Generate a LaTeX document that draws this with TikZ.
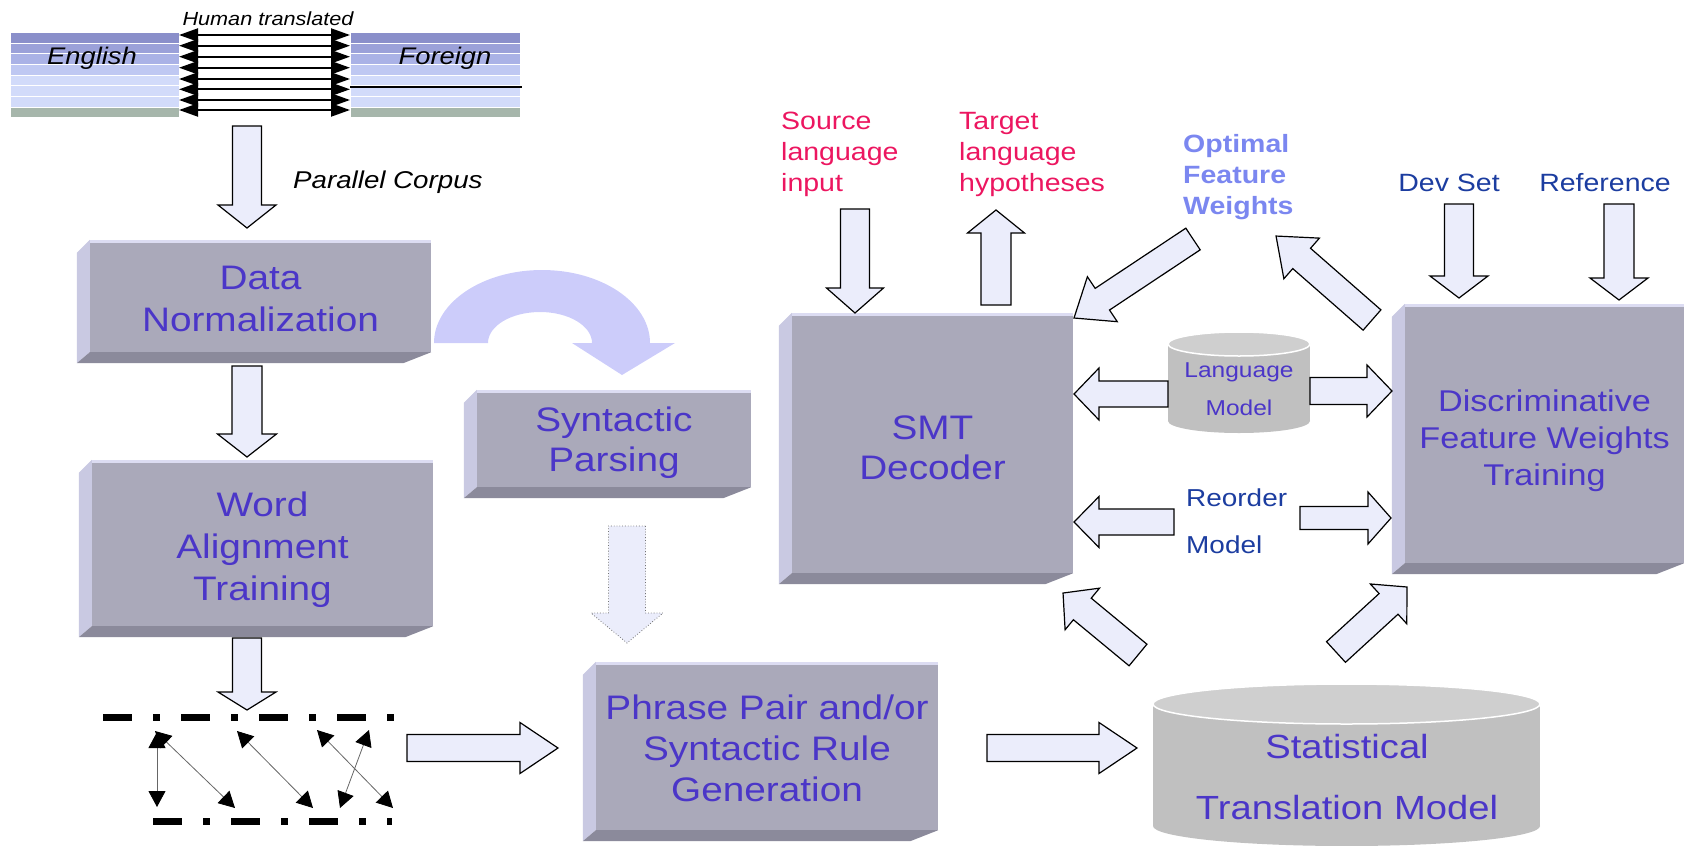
\documentclass[tikz,border=0pt]{standalone}
\usepackage{fontspec}
\setmainfont{Liberation Sans}[FakeStretch=1.14]
\usetikzlibrary{arrows.meta,calc}

\definecolor{facecol}{HTML}{AAA9BA}
\definecolor{sidecol}{HTML}{C9C9E2}
\definecolor{basecol}{HTML}{8B8A9B}
\definecolor{edgecol}{HTML}{DCDCF2}
\definecolor{labelcol}{HTML}{4B36C8}
\definecolor{arrowfill}{HTML}{EBEDFB}
\definecolor{curvefill}{HTML}{CCCCFA}
\definecolor{inputcol}{HTML}{EC1660}
\definecolor{weightcol}{HTML}{7B87F0}
\definecolor{devcol}{HTML}{1C3DA0}
\definecolor{cylbody}{HTML}{C0C0C0}
\definecolor{cyltop}{HTML}{CFCFCF}
\definecolor{stripeA}{HTML}{8A8FCA}
\definecolor{stripeB}{HTML}{9BA1D9}
\definecolor{stripeC}{HTML}{AAB2E6}
\definecolor{stripeD}{HTML}{BFC8F2}
\definecolor{stripeE}{HTML}{D2DBFA}
\definecolor{stripeF}{HTML}{A6B6AB}

% wide block arrow from one named point to another
% #1 extra options, #2 tail, #3 tip, #4 shaft width, #5 head width, #6 head length
\newcommand\blockarrow[6][]{%
  \pgfpointdiff{\pgfpointanchor{#2}{center}}{\pgfpointanchor{#3}{center}}%
  \pgfgetlastxy{\bax}{\bay}%
  \pgfmathsetmacro\baang{atan2(\bay,\bax)}%
  \pgfmathsetmacro\balen{veclen(\bax,\bay)}%
  \begin{scope}[shift={(#2)},rotate=\baang]
    \draw[barrow,#1] (0,{-#4/2}) -- ({\balen-#6},{-#4/2}) -- ({\balen-#6},{-#5/2})
      -- (\balen,0) -- ({\balen-#6},{#5/2}) -- ({\balen-#6},{#4/2}) -- (0,{#4/2}) -- cycle;
  \end{scope}}

% bevelled left and lower faces of a slab node
\newcommand\slabsides[1]{%
  \fill[sidecol] (#1.north west) -- ++(-13,13) -- ($(#1.south west)+(-13,11)$) -- (#1.south west) -- cycle;
  \fill[basecol] (#1.south west) -- ($(#1.south west)+(-13,11)$) -- ($(#1.south east)+(-28,11)$) -- (#1.south east) -- cycle;
  \fill[edgecol] (#1.north west) rectangle ($(#1.north east)+(0,3)$);}

% database drum: centre x, x radius, top y, bottom y, y radius
\newcommand\drum[5]{%
  \fill[cylbody] ({#1-#2},#3) rectangle ({#1+#2},#4);
  \fill[cylbody] (#1,#4) ellipse [x radius=#2, y radius=#5];
  \filldraw[fill=cyltop, draw=white, line width=1.5pt] (#1,#3) ellipse [x radius=#2, y radius=#5];}

\begin{document}
\begin{tikzpicture}[x=1pt,y=-1pt,
  slab/.style={rectangle, fill=facecol, inner sep=0pt},
  slabtext/.style={inner sep=0pt, text=labelcol, align=center, font=\fontsize{34}{42}\selectfont},
  barrow/.style={fill=arrowfill, draw=black, line width=1.2pt, line join=miter},
  faint/.style={draw=black!55, line width=0.8pt, dotted},
  corpusline/.style={line width=2pt,
    arrows={Triangle[length=19pt,width=13pt]-Triangle[length=19pt,width=13pt]}},
  alignarrow/.style={draw=black!60, line width=0.8pt,
    arrows={Triangle[length=16pt,width=17pt,color=black]-Triangle[length=16pt,width=17pt,color=black]}},
  dashdot/.style={line width=7pt, dash pattern=on 29pt off 21pt on 7pt off 21pt},
  lbl/.style={inner sep=0pt}]
\useasboundingbox (0,0) rectangle (1684,846);

% ---------- parallel corpus ----------
\foreach \i/\c in {0/stripeA,1/stripeB,2/stripeC,3/stripeD,4/stripeE,5/stripeE,6/stripeE,7/stripeF}{
  \fill[\c] (11,{33+10.65*\i}) rectangle (179,{42.6+10.65*\i});
  \fill[\c] (351,{33+10.65*\i}) rectangle (520,{42.6+10.65*\i});
}
\foreach \y in {35,45.7,56.7,67.7,79,89.3,100,110}
  \draw[corpusline] (179,\y) -- (350,\y);
\draw[line width=1.3pt] (350,87) -- (522,87);
\node[lbl, anchor=base, font=\itshape\fontsize{19}{19}\selectfont] (hum) at (268,25) {Human translated};
\node[lbl, anchor=base, font=\itshape\fontsize{24}{24}\selectfont] (eng) at (92,64) {English};
\node[lbl, anchor=base, font=\itshape\fontsize{24}{24}\selectfont] (frn) at (445,64) {Foreign};
\node[lbl, anchor=base west, font=\itshape\fontsize{24.3}{24}\selectfont] (pcl) at (293,188) {Parallel Corpus};

% ---------- processing slabs ----------
\node[slab, minimum width=341pt, minimum height=112pt] (dn) at (260.5,296) {};
\slabsides{dn}
\node[slabtext] (dn-t) at ($(dn.center)+(0,3)$) {Data\\Normalization};
\node[slab, minimum width=341pt, minimum height=166pt] (wat) at (262.5,543) {};
\slabsides{wat}
\node[slabtext] (wat-t) at ($(wat.center)+(0,7)$) {Word\\Alignment\\Training};
\node[slab, minimum width=274pt, minimum height=97pt] (syn) at (614,438.5) {};
\slabsides{syn}
\node[slabtext, font=\fontsize{34}{40}\selectfont] (syn-t) at ($(syn.center)+(0,4)$) {Syntactic\\Parsing};
\node[slab, minimum width=342pt, minimum height=168pt] (phr) at (767,746) {};
\slabsides{phr}
\node[slabtext, font=\fontsize{34}{41}\selectfont] (phr-t) at ($(phr.center)+(0,2)$) {Phrase Pair and/or\\Syntactic Rule\\Generation};
\node[slab, minimum width=281pt, minimum height=260pt] (smt) at (932.5,443) {};
\slabsides{smt}
\node[slabtext, font=\fontsize{34}{40}\selectfont] (smt-t) at ($(smt.center)+(0,5)$) {SMT\\Decoder};
\node[slab, minimum width=279pt, minimum height=259pt] (dis) at (1544.5,433.5) {};
\slabsides{dis}
\node[slabtext, font=\fontsize{30}{37}\selectfont] (dis-t) at ($(dis.center)+(0,7)$) {Discriminative\\Feature Weights\\Training};

% ---------- models ----------
\drum{1346.5}{193.5}{704}{826}{20}
\node[lbl, text=labelcol, align=center, font=\fontsize{33.5}{61}\selectfont] (stm) at (1347,777) {Statistical\\Translation Model};
\drum{1239}{71}{344}{421}{12}
\node[lbl, text=labelcol, align=center, font=\fontsize{21.5}{38}\selectfont] (lmt) at (1239,389) {Language\\Model};
\node[lbl, anchor=west, text=devcol, align=left, font=\fontsize{24.5}{47}\selectfont] (rom) at (1186,521) {Reorder\\Model};

% ---------- decoder inputs and outputs ----------
\node[lbl, anchor=west, text=inputcol, align=left, font=\fontsize{25}{31}\selectfont] (src) at (781,154) {Source\\language\\input};
\node[lbl, anchor=west, text=inputcol, align=left, font=\fontsize{25}{31}\selectfont] (tgt) at (959,154) {Target\\language\\hypotheses};
\node[lbl, anchor=west, text=weightcol, align=left, font=\bfseries\fontsize{25}{31}\selectfont] (opt) at (1183,177) {Optimal\\Feature\\Weights};
\node[lbl, anchor=base, text=devcol, font=\fontsize{25}{25}\selectfont] (dev) at (1449,191) {Dev Set};
\node[lbl, anchor=base, text=devcol, font=\fontsize{25}{25}\selectfont] (ref) at (1605,191) {Reference};

% ---------- word alignment sketch ----------
\draw[dashdot] (103,717) -- (398,717);
\draw[dashdot] (153,821) -- (392,821);
\coordinate (e1) at (157,732); \coordinate (f1) at (157,807);
\coordinate (e2) at (155,731); \coordinate (f2) at (235,808);
\coordinate (e3) at (237,731); \coordinate (f3) at (313,808);
\coordinate (e4) at (317,730); \coordinate (f4) at (393,808);
\coordinate (e5) at (369,730); \coordinate (f5) at (340,808);
\foreach \k in {1,...,5} \draw[alignarrow] (e\k) -- (f\k);

% ---------- curved hand-off arrow ----------
\fill[curvefill] (434,343) arc[start angle=180, end angle=360, x radius=108, y radius=73]
  -- (675,343) -- (622,375) -- (572,343) -- (592,343)
  arc[start angle=0, end angle=-180, x radius=52, y radius=31] -- cycle;

% ---------- block arrows ----------
\coordinate (a1) at (247,126);   \coordinate (b1) at (247,228);
\coordinate (a2) at (247,366);   \coordinate (b2) at (247,457);
\coordinate (a3) at (247,638);   \coordinate (b3) at (247,710);
\coordinate (a4) at (407,748);   \coordinate (b4) at (558,748);
\coordinate (a5) at (987,748);   \coordinate (b5) at (1137,748);
\coordinate (a6) at (627,526);   \coordinate (b6) at (627,643);
\coordinate (a7) at (855,209);   \coordinate (b7) at (855,313);
\coordinate (a8) at (996,305);   \coordinate (b8) at (996,210);
\coordinate (a9) at (1193,239);  \coordinate (b9) at (1074,318);
\coordinate (a10) at (1372,320); \coordinate (b10) at (1276,236);
\coordinate (a11) at (1168,394); \coordinate (b11) at (1074,394);
\coordinate (a12) at (1310,391); \coordinate (b12) at (1392,391);
\coordinate (a13) at (1174,522); \coordinate (b13) at (1074,522);
\coordinate (a14) at (1300,518); \coordinate (b14) at (1391,518);
\coordinate (a15) at (1138,655); \coordinate (b15) at (1063,593);
\coordinate (a16) at (1336,652); \coordinate (b16) at (1407,587);
\coordinate (a17) at (1459,204); \coordinate (b17) at (1459,298);
\coordinate (a18) at (1619,204); \coordinate (b18) at (1619,300);

\blockarrow{a1}{b1}{29}{58}{23}
\blockarrow{a2}{b2}{30}{59}{23}
\blockarrow{a3}{b3}{29}{58}{18}
\blockarrow{a4}{b4}{27}{51}{38}
\blockarrow{a5}{b5}{27}{51}{38}
\blockarrow[faint]{a6}{b6}{37}{72}{30}
\blockarrow{a7}{b7}{29}{57}{25}
\blockarrow{a8}{b8}{30}{57}{23}
\blockarrow{a9}{b9}{26}{54}{34}
\blockarrow{a10}{b10}{27}{54}{34}
\blockarrow{a11}{b11}{26}{52}{25}
\blockarrow{a12}{b12}{27}{52}{25}
\blockarrow{a13}{b13}{26}{51}{25}
\blockarrow{a14}{b14}{23}{52}{23}
\blockarrow{a15}{b15}{28}{54}{25}
\blockarrow{a16}{b16}{28}{54}{25}
\blockarrow{a17}{b17}{29}{58}{22}
\blockarrow{a18}{b18}{30}{58}{22}
\end{tikzpicture}
\end{document}
